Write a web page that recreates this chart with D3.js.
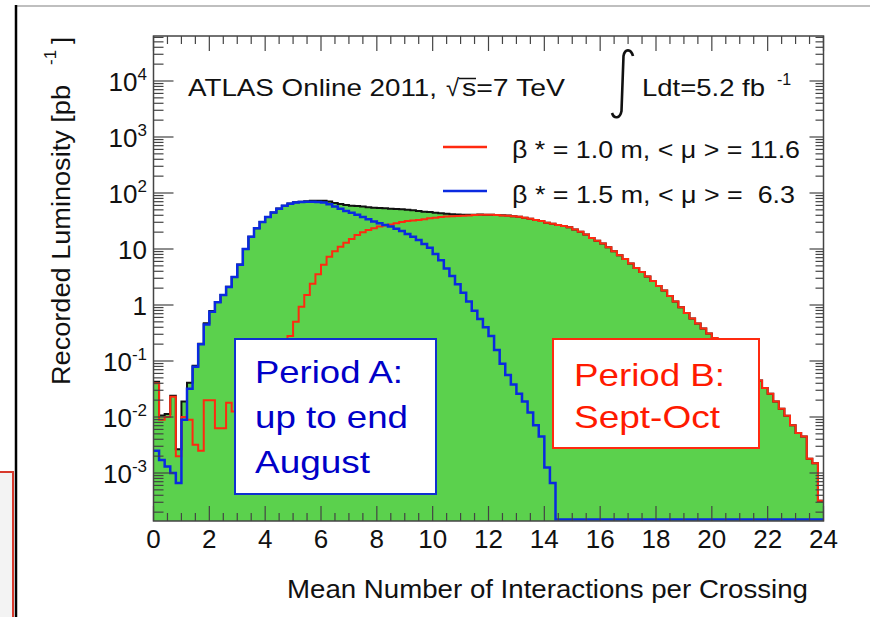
<!DOCTYPE html>
<html lang="en">
<head>
<meta charset="utf-8">
<title>ATLAS pile-up 2011</title>
<script src="https://d3js.org/d3.v7.min.js"></script>
<style>
  body { margin: 0; background: #fff; }
  svg text { font-family: "Liberation Sans", Arial, Helvetica, sans-serif; white-space: pre; }
</style>
</head>
<body>
<script>
// histogram bins: 0.2 wide, mu from 0 to 24 (120 bins)
var binWidth = 0.2;

// period B (beta* = 1.0 m), recorded lumi per bin [pb^-1]
var periodB = [
  0.040, 0.0089, 0.010, 0.023, 0.0020, 0.010, 0.0089, 0.0032, 0.0025, 0.020,
  0.020, 0.0063, 0.0063, 0.018, 0.0126, 0.0126, 0.016, 0.020, 0.028, 0.040,
  0.056, 0.089, 0.126, 0.178, 0.28, 0.50, 0.93, 1.51, 2.40, 3.55,
  5.25, 7.24, 9.12, 11.0, 12.9, 15.1, 17.8, 20.0, 21.9, 23.4,
  25.1, 26.3, 27.5, 28.8, 30.2, 31.6, 32.4, 33.1, 33.9, 35.5,
  36.3, 37.2, 38.0, 38.5, 38.9, 39.4, 39.8, 40.3, 40.7, 40.7,
  40.7, 40.3, 39.8, 39.4, 38.5, 37.6, 36.3, 34.7, 33.1, 31.6,
  29.5, 28.2, 26.9, 25.7, 24.5, 22.4, 20.4, 18.2, 15.8, 14.1,
  12.6, 10.7, 9.12, 7.76, 6.61, 5.50, 4.57, 3.89, 3.24, 2.69,
  2.19, 1.82, 1.45, 1.15, 0.91, 0.72, 0.575, 0.468, 0.380, 0.309,
  0.257, 0.209, 0.166, 0.132, 0.105, 0.083, 0.066, 0.054, 0.045, 0.033,
  0.026, 0.019, 0.014, 0.0105, 0.0071, 0.0052, 0.0045, 0.0018, 0.0015, 0.00032
];

// period A (beta* = 1.5 m)
var periodA = [
  0.0025, 0.0017, 0.0013, 0.0010, 0.00066, 0.0089, 0.032, 0.079, 0.20, 0.45,
  0.76, 1.12, 1.51, 2.09, 3.16, 5.25, 10.0, 16.6, 23.4, 30.2,
  37.2, 44.7, 52.5, 58.9, 64.6, 67.6, 69.2, 70.0, 70.0, 69.2,
  67.6, 63.1, 57.5, 52.5, 47.9, 44.2, 40.7, 37.2, 33.9, 30.9,
  28.8, 26.9, 25.1, 22.9, 20.9, 18.6, 16.6, 14.5, 12.3, 10.5,
  8.13, 6.31, 4.47, 3.31, 2.34, 1.66, 1.15, 0.79, 0.56, 0.40,
  0.28, 0.158, 0.089, 0.056, 0.038, 0.026, 0.019, 0.012, 0.0071, 0.0045,
  0.00126, 0.00066, 0, 0, 0, 0, 0, 0, 0, 0,
  0, 0, 0, 0, 0, 0, 0, 0, 0, 0,
  0, 0, 0, 0, 0, 0, 0, 0, 0, 0,
  0, 0, 0, 0, 0, 0, 0, 0, 0, 0,
  0, 0, 0, 0, 0, 0, 0, 0, 0, 0
];

var xTickValues = [0, 2, 4, 6, 8, 10, 12, 14, 16, 18, 20, 22, 24];
var yTickValues = [1e-3, 1e-2, 1e-1, 1, 10, 1e2, 1e3, 1e4];
var yTickLabels = [["10", "-3"], ["10", "-2"], ["10", "-1"], ["1", ""], ["10", ""], ["10", "2"], ["10", "3"], ["10", "4"]];

var W = 870, H = 617;
var frame = {left: 153.5, right: 823.5, top: 36, bottom: 521};

var svg = d3.select("body").append("svg").attr("width", W).attr("height", H);
svg.append("rect").attr("width", W).attr("height", H).attr("fill", "#fff");

// slide decorations
svg.append("rect").attr("x", -3).attr("y", 472).attr("width", 16).attr("height", 150)
  .attr("fill", "#f3f3f3").attr("stroke", "#d8392c").attr("stroke-width", 2);
svg.append("line").attr("x1", 15).attr("x2", W).attr("y1", 6).attr("y2", 6)
  .attr("stroke", "#aaa").attr("stroke-width", 1.5);
svg.append("line").attr("x1", 16).attr("x2", 16).attr("y1", 5).attr("y2", H)
  .attr("stroke", "#000").attr("stroke-width", 2.5);

var x = d3.scaleLinear().domain([0, 24]).range([frame.left, frame.right]);
var y = d3.scaleLog().domain([1e-3, 1e4]).range([473, 81]);

svg.append("clipPath").attr("id", "clip").append("rect")
  .attr("x", frame.left).attr("y", frame.top)
  .attr("width", frame.right - frame.left).attr("height", frame.bottom - frame.top);

var total = periodA.map(function(v, i) { return v + periodB[i]; });

// empty bins sit on the lower frame edge, like ROOT draws them
var zeroY = frame.bottom - 1.5;
function stepPoints(vals) {
  var pts = [];
  vals.forEach(function(v, i) {
    var yy = v > 0 ? Math.min(y(v), zeroY) : zeroY;
    pts.push([x(i * binWidth), yy], [x((i + 1) * binWidth), yy]);
  });
  return pts;
}

var plot = svg.append("g").attr("clip-path", "url(#clip)");
var area = d3.area().x(function(d) { return d[0]; }).y0(frame.bottom).y1(function(d) { return d[1]; });
var line = d3.line();

plot.append("path").attr("d", area(stepPoints(total))).attr("fill", "#5bd14d");
plot.append("path").attr("d", line(stepPoints(total))).attr("fill", "none")
  .attr("stroke", "#111").attr("stroke-width", 2);
plot.append("path").attr("d", line(stepPoints(periodB))).attr("fill", "none")
  .attr("stroke", "#ff2a10").attr("stroke-width", 2);
plot.append("path").attr("d", line(stepPoints(periodA))).attr("fill", "none")
  .attr("stroke", "#0a2ae0").attr("stroke-width", 2.5);

// frame + ticks
var axc = "#444";
var tk = svg.append("g").attr("stroke", axc).attr("stroke-width", 1.2);
d3.range(0, 24.01, 0.5).forEach(function(m) {
  var major = Math.abs(m / 2 - Math.round(m / 2)) < 1e-6;
  var xx = x(m);
  tk.append("line").attr("x1", xx).attr("x2", xx).attr("y1", frame.bottom).attr("y2", frame.bottom - (major ? 15 : 8));
  tk.append("line").attr("x1", xx).attr("x2", xx).attr("y1", frame.top).attr("y2", frame.top + (major ? 15 : 8));
});
for (var e = -4; e <= 4; e++) {
  for (var k = 1; k <= 9; k++) {
    var yy = y(k * Math.pow(10, e));
    if (yy < frame.top || yy > frame.bottom) continue;
    var major = k === 1;
    tk.append("line").attr("x1", frame.left).attr("x2", frame.left + (major ? 20 : 10)).attr("y1", yy).attr("y2", yy);
    tk.append("line").attr("x1", frame.right).attr("x2", frame.right - (major ? 14 : 8)).attr("y1", yy).attr("y2", yy);
  }
}
svg.append("rect").attr("x", frame.left).attr("y", frame.top)
  .attr("width", frame.right - frame.left).attr("height", frame.bottom - frame.top)
  .attr("fill", "none").attr("stroke", axc).attr("stroke-width", 1.5);

// tick labels
svg.selectAll(".xl").data(xTickValues).enter().append("text")
  .attr("x", function(d) { return x(d); }).attr("y", 548)
  .attr("text-anchor", "middle").attr("font-size", 26).attr("fill", "#111")
  .text(function(d) { return d; });

yTickValues.forEach(function(v, i) {
  var t = svg.append("text").attr("x", 147).attr("y", y(v) + 10)
    .attr("text-anchor", "end").attr("font-size", 26).attr("fill", "#111");
  t.append("tspan").text(yTickLabels[i][0]);
  if (yTickLabels[i][1]) t.append("tspan").attr("dy", -11).attr("font-size", 17).text(yTickLabels[i][1]);
});

// axis titles
svg.append("text").attr("x", 287).attr("y", 598).attr("font-size", 25).attr("fill", "#111")
  .attr("textLength", 521).attr("lengthAdjust", "spacingAndGlyphs")
  .text("Mean Number of Interactions per Crossing");

var yt = svg.append("g").attr("transform", "translate(70,385) rotate(-90)").attr("fill", "#111");
yt.append("text").attr("x", 0).attr("y", 0).attr("font-size", 25)
  .attr("textLength", 300).attr("lengthAdjust", "spacingAndGlyphs").text("Recorded Luminosity [pb");
yt.append("text").attr("x", 320).attr("y", -14).attr("font-size", 17).text("-1");
yt.append("text").attr("x", 341).attr("y", 0).attr("font-size", 25).text("]");

// labels in the pad
function label(str, x0, y0, size, len, color) {
  var t = svg.append("text").attr("x", x0).attr("y", y0).attr("font-size", size)
    .attr("fill", color || "#111").text(str);
  if (len) t.attr("textLength", len).attr("lengthAdjust", "spacingAndGlyphs");
  return t;
}
label("ATLAS Online 2011,", 188, 96, 24, 249);
label("\u221A", 446, 96, 24);
svg.append("line").attr("x1", 459).attr("x2", 476).attr("y1", 78.5).attr("y2", 78.5)
  .attr("stroke", "#111").attr("stroke-width", 1.5);
label("s=7 TeV", 462, 96, 24, 103);
// tall thin integral sign
svg.append("path")
  .attr("d", "M633,56 C631,49 625,48 623.5,56 L621.5,111 C620,119 614,119 612,113")
  .attr("fill", "none").attr("stroke", "#111").attr("stroke-width", 2.6);
label("Ldt=5.2 fb", 642, 96, 24, 123);
label("-1", 777, 85, 16);

// legend
svg.append("line").attr("x1", 443).attr("x2", 487).attr("y1", 147).attr("y2", 147)
  .attr("stroke", "#ff2a10").attr("stroke-width", 2.5);
svg.append("line").attr("x1", 443).attr("x2", 487).attr("y1", 191).attr("y2", 191)
  .attr("stroke", "#0a2ae0").attr("stroke-width", 2.5);
label("\u03B2 * = 1.0 m, < \u03BC > = 11.6", 512, 158, 24, 288);
label("\u03B2 * = 1.5 m, < \u03BC > =  6.3", 512, 203, 24, 283);

// period boxes
svg.append("rect").attr("x", 235).attr("y", 339).attr("width", 201).attr("height", 155)
  .attr("fill", "#fff").attr("stroke", "#1030d0").attr("stroke-width", 2);
label("Period A:", 255, 383, 32, 148, "#0000c8");
label("up to end", 255, 428, 32, 153, "#0000c8");
label("August", 255, 473, 32, 115, "#0000c8");

svg.append("rect").attr("x", 553).attr("y", 339).attr("width", 206).attr("height", 109)
  .attr("fill", "#fff").attr("stroke", "#ff2a10").attr("stroke-width", 2);
label("Period B:", 574, 386, 32, 151, "#ff1a00");
label("Sept-Oct", 574, 428, 32, 146, "#ff1a00");
</script>
</body>
</html>
